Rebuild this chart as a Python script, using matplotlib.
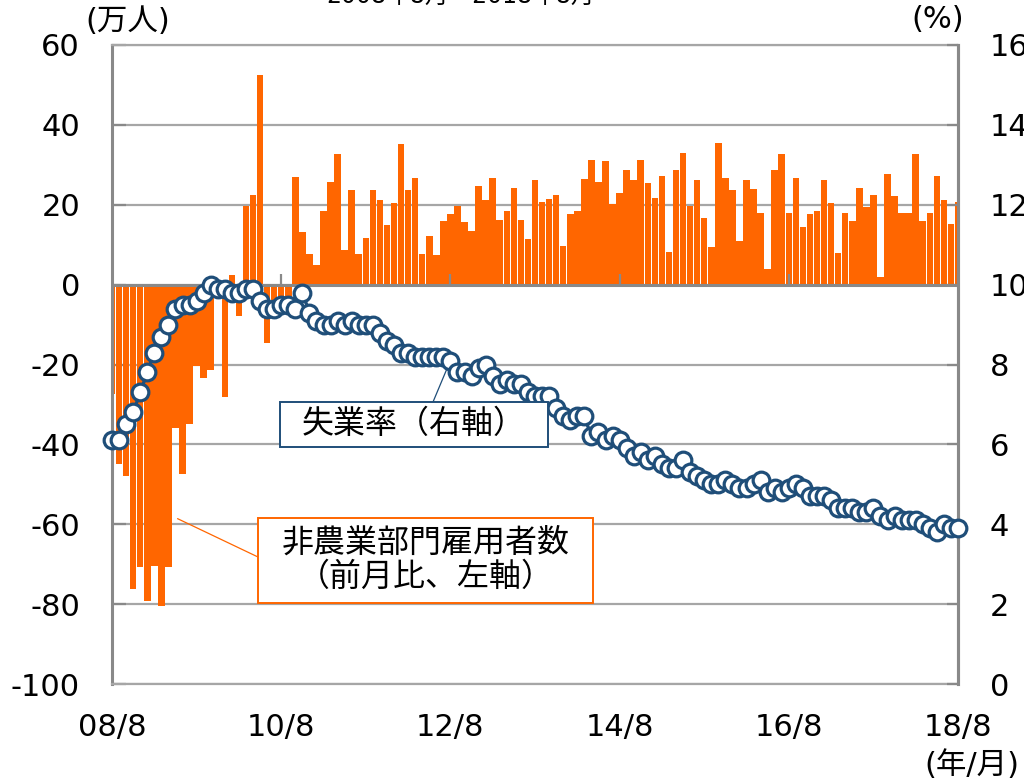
import matplotlib
matplotlib.use('Agg')
import matplotlib.pyplot as plt
import numpy as np
from matplotlib.patches import Rectangle

plt.rcParams['font.family'] = ['DejaVu Sans', 'Noto Sans CJK JP']

# ---- data -------------------------------------------------------------
# monthly, 2008/8 .. 2018/8
start_year, start_month, n_months = 2008, 8, 121
months = [((start_year * 12 + start_month - 1 + k) // 12,
           (start_year * 12 + start_month - 1 + k) % 12 + 1) for k in range(n_months)]

# non-farm payroll change (10k persons, m/m)
payrolls = [
    -27.5, -44.8, -47.9, -76.3, -70.8,
    -79.2, -70.5, -80.4, -70.6, -35.8, -47.3, -34.8, -20.3, -23.4, -21.4, 1.0, -28.2,
    2.3, -7.8, 19.6, 22.5, 52.6, -14.5, -8.2, -3.5, -6.0, 27.0, 13.3, 7.7,
    4.9, 18.5, 25.7, 32.6, 8.6, 23.7, 7.7, 11.6, 23.7, 21.2, 15.0, 20.5,
    35.2, 23.7, 26.7, 7.7, 12.1, 7.4, 16.0, 17.6, 19.6, 15.6, 13.5, 24.6,
    21.2, 26.8, 16.1, 18.4, 24.3, 16.3, 11.5, 26.3, 20.6, 21.4, 22.4, 9.7,
    17.8, 18.5, 26.4, 31.3, 25.7, 30.9, 20.1, 23.0, 28.7, 26.1, 31.1, 25.5,
    21.6, 27.1, 8.2, 28.6, 33.0, 19.6, 26.2, 16.8, 9.3, 35.4, 26.8, 23.8,
    10.8, 26.1, 23.9, 17.9, 3.9, 28.8, 32.8, 18.0, 26.6, 14.5, 17.7, 18.5,
    26.2, 20.5, 7.8, 17.9, 16.0, 24.2, 19.5, 22.5, 2.0, 27.6, 22.1, 18.0,
    18.0, 32.7, 16.0, 17.9, 27.2, 21.2, 15.2, 20.6,
]

# unemployment rate (%)
unemployment = [
    6.1, 6.1, 6.5, 6.8, 7.3,
    7.8, 8.3, 8.7, 9.0, 9.4, 9.5, 9.5, 9.6, 9.8, 10.0, 9.9, 9.9,
    9.8, 9.8, 9.9, 9.9, 9.6, 9.4, 9.4, 9.5, 9.5, 9.4, 9.8, 9.3,
    9.1, 9.0, 9.0, 9.1, 9.0, 9.1, 9.0, 9.0, 9.0, 8.8, 8.6, 8.5,
    8.3, 8.3, 8.2, 8.2, 8.2, 8.2, 8.2, 8.1, 7.8, 7.8, 7.7, 7.9,
    8.0, 7.7, 7.5, 7.6, 7.5, 7.5, 7.3, 7.2, 7.2, 7.2, 6.9, 6.7,
    6.6, 6.7, 6.7, 6.2, 6.3, 6.1, 6.2, 6.1, 5.9, 5.7, 5.8, 5.6,
    5.7, 5.5, 5.4, 5.4, 5.6, 5.3, 5.2, 5.1, 5.0, 5.0, 5.1, 5.0,
    4.9, 4.9, 5.0, 5.1, 4.8, 4.9, 4.8, 4.9, 5.0, 4.9, 4.7, 4.7,
    4.7, 4.6, 4.4, 4.4, 4.4, 4.3, 4.3, 4.4, 4.2, 4.1, 4.2, 4.1,
    4.1, 4.1, 4.0, 3.9, 3.8, 4.0, 3.9, 3.9,
]

tick_months = [(2008, 8), (2010, 8), (2012, 8), (2014, 8), (2016, 8), (2018, 8)]
tick_labels = ["08/8", "10/8", "12/8", "14/8", "16/8", "18/8"]

left_ticks = list(range(-100, 61, 20))
right_ticks = list(range(0, 17, 2))

title = "2008年8月～2018年8月"
unemp_label = "失業率（右軸）"
payroll_label = "非農業部門雇用者数\n（前月比、左軸）"

# ---- style ------------------------------------------------------------
ORANGE = '#FF6600'
NAVY = '#1F4E79'
AXIS_GRAY = '#898989'
GRID_GRAY = '#A6A6A6'
FS = 22

W, H = 1024, 782
L, R, T, B = 112, 958, 45, 684

fig = plt.figure(figsize=(W / 100, H / 100), dpi=100)
ax = fig.add_axes([L / W, (H - B) / H, (R - L) / W, (B - T) / H])

x = np.arange(len(payrolls))
ax.bar(x, payrolls, width=0.93, color=ORANGE, linewidth=0, zorder=2)
ax.set_xlim(0, len(payrolls) - 1)
ax.set_ylim(-100, 60)
ax.set_yticks(left_ticks)
ax.set_yticklabels([str(v) for v in left_ticks])
ax.yaxis.grid(True, color=GRID_GRAY, lw=1.6, zorder=0)
ax.set_axisbelow(True)

tick_pos = [months.index(m) for m in tick_months]
ax.set_xticks(tick_pos)
ax.set_xticklabels(tick_labels)
ax.tick_params(axis='x', length=0, labelsize=FS, pad=21)
ax.tick_params(axis='y', direction='in', length=10, width=1.6, color=AXIS_GRAY,
               labelsize=FS, pad=23)

for s in ('left', 'right'):
    ax.spines[s].set_color(AXIS_GRAY)
    ax.spines[s].set_linewidth(2.2)
for s in ('top', 'bottom'):
    ax.spines[s].set_color(GRID_GRAY)
    ax.spines[s].set_linewidth(1.6)

# zero axis line with upward tick marks
ax.axhline(0, color=AXIS_GRAY, lw=2.2, zorder=3)
ax.vlines(tick_pos, 0, 2.6, color=AXIS_GRAY, lw=1.6, zorder=3)

# ---- right axis -------------------------------------------------------
ax2 = ax.twinx()
ax2.set_ylim(0, 16)
ax2.set_yticks(right_ticks)
ax2.set_yticklabels([str(v) for v in right_ticks])
ax2.tick_params(axis='y', direction='in', length=8, width=1.6, color=AXIS_GRAY,
                labelsize=FS, pad=23)
for s in ('left', 'top', 'bottom'):
    ax2.spines[s].set_visible(False)
ax2.spines['right'].set_color(AXIS_GRAY)
ax2.spines['right'].set_linewidth(2.2)

ax2.plot(x, unemployment, '-o', color=NAVY, lw=2.4, ms=12, mfc='white',
         mec=NAVY, mew=2.3, clip_on=False, zorder=5)

# ---- annotation boxes ---------------------------------------------------
def px_box(x0, y0, x1, y1):
    return ((x0 - L) / (R - L), (B - y1) / (B - T), (x1 - x0) / (R - L), (y1 - y0) / (B - T))

bx, by, bw, bh = px_box(280, 402, 548, 447)
ax2.add_patch(Rectangle((bx, by), bw, bh, transform=ax2.transAxes, facecolor='white',
                        edgecolor=NAVY, lw=1.4, zorder=6, clip_on=False))
ax2.text(bx + bw / 2, by + bh / 2, unemp_label, transform=ax2.transAxes, ha='center',
         va='center', fontsize=23, zorder=7)
ax2.annotate('', xy=(48, unemployment[48]), xycoords='data',
             xytext=((433 - L) / (R - L), by + bh), textcoords='axes fraction',
             arrowprops=dict(arrowstyle='-', color=NAVY, lw=0.9, shrinkA=0, shrinkB=7),
             zorder=4)

bx2, by2, bw2, bh2 = px_box(258, 518, 593, 603)
ax2.add_patch(Rectangle((bx2, by2), bw2, bh2, transform=ax2.transAxes, facecolor='white',
                        edgecolor=ORANGE, lw=1.4, zorder=6, clip_on=False))
ax2.text(bx2 + bw2 / 2, by2 + bh2 / 2, payroll_label, transform=ax2.transAxes, ha='center',
         va='center', fontsize=23, zorder=7, linespacing=1.15)
ax.annotate('', xy=(9.3, -58.6), xycoords='data',
            xytext=(bx2, (B - 557) / (B - T)), textcoords='axes fraction',
            arrowprops=dict(arrowstyle='-', color=ORANGE, lw=0.9, shrinkA=0, shrinkB=0),
            zorder=4)

# ---- unit labels and title ---------------------------------------------
fig.text(128 / W, 1 - 22 / H, "(万人)", ha='center', va='center', fontsize=FS)
fig.text(938 / W, 1 - 20 / H, "(%)", ha='center', va='center', fontsize=FS)
fig.text(972 / W, 1 - 765 / H, "(年/月)", ha='center', va='center', fontsize=FS)
fig.text(460 / W, 1 - 4 / H, title, ha='center', va='baseline', fontsize=17)

fig.savefig('out.png', dpi=100)
